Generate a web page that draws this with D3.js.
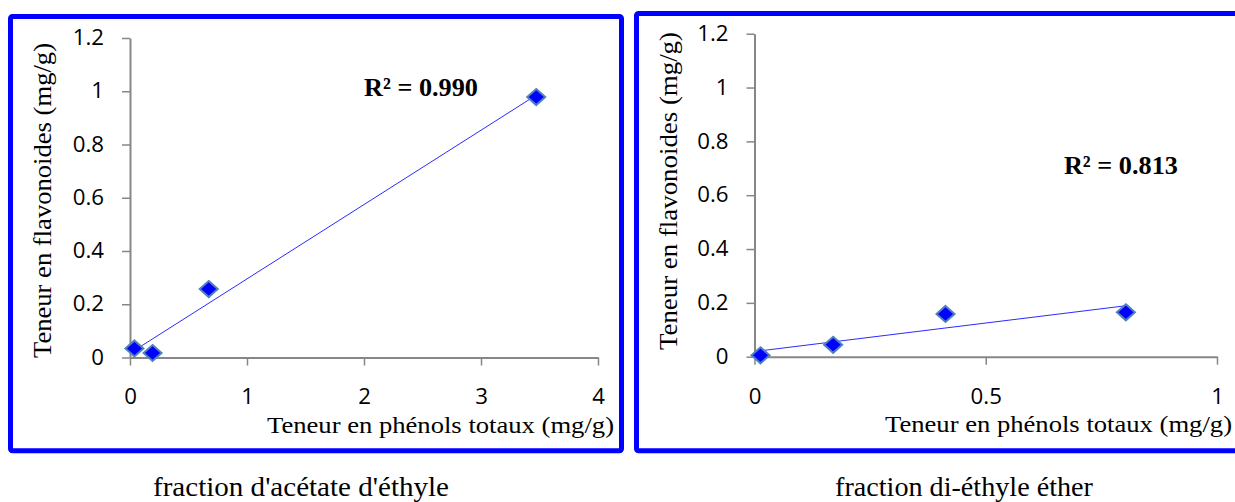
<!DOCTYPE html>
<html>
<head>
<meta charset="utf-8">
<script src="https://cdn.jsdelivr.net/npm/d3@7"></script>
<style>
  html, body { margin: 0; padding: 0; background: #fff; }
  svg { display: block; }
</style>
</head>
<body>
<svg id="chart" width="1235" height="502"></svg>
<script>
// Fraction d'acétate d'éthyle: phenols (x) vs flavonoids (y), mg/g
const acetatePhenols = [0.038, 0.193, 0.673, 3.472];
const acetateFlavo   = [0.034, 0.017, 0.257, 0.978];
const acetateR2 = "0.990";

// Fraction di-éthyle éther
const etherPhenols = [0.013, 0.170, 0.413, 0.803];
const etherFlavo   = [0.005, 0.044, 0.159, 0.165];
const etherR2 = "0.813";

// Axis ticks
const yTickValues = [0, 0.2, 0.4, 0.6, 0.8, 1, 1.2];
const acetateXTicks = [0, 1, 2, 3, 4];
const etherXTicks = [0, 0.5, 1];

const yTitle = "Teneur en flavonoides (mg/g)";
const xTitle = "Teneur en phénols totaux (mg/g)";
const captions = ["fraction d'acétate d'éthyle", "fraction di-éthyle éther"];

const svg = d3.select("#chart");
svg.append("rect").attr("width", 1235).attr("height", 502).attr("fill", "#fff");

const SANS = "'Open Sans', 'Liberation Sans', sans-serif";
const SERIF = "'Liberation Serif', 'DejaVu Serif', serif";
const AXIS_COLOR = "#878787";
const STRETCH = 1.06;

function stretchText(sel, factor) {
  sel.each(function () {
    const w = this.getComputedTextLength();
    d3.select(this).attr("textLength", w * factor).attr("lengthAdjust", "spacingAndGlyphs");
  });
}

function linearFit(xs, ys) {
  const mx = d3.mean(xs), my = d3.mean(ys);
  let sxy = 0, sxx = 0;
  xs.forEach((x, i) => { sxy += (x - mx) * (ys[i] - my); sxx += (x - mx) * (x - mx); });
  const slope = sxy / sxx;
  return { slope, intercept: my - slope * mx };
}

function serifText(parent, size, weight) {
  return parent.append("text")
    .style("font-family", SERIF)
    .style("font-size", size + "px")
    .style("font-weight", weight || "normal")
    .attr("fill", "#000")
    .attr("lengthAdjust", "spacingAndGlyphs");
}

function panel(cfg) {
  const g = svg.append("g");

  // Blue frame around the panel
  g.append("rect")
    .attr("x", cfg.frame[0]).attr("y", cfg.frame[1])
    .attr("width", cfg.frame[2]).attr("height", cfg.frame[3])
    .attr("rx", 2)
    .attr("fill", "none").attr("stroke", "#0000ff").attr("stroke-width", 5);

  const x = d3.scaleLinear().domain(cfg.xDomain).range(cfg.xRange);
  const y = d3.scaleLinear().domain([0, 1.2]).range(cfg.yRange);

  // Y axis
  const ya = g.append("g")
    .attr("transform", `translate(${cfg.xRange[0]},0)`)
    .call(d3.axisLeft(y).tickValues(yTickValues).tickFormat(d3.format("~g"))
      .tickSize(8).tickSizeOuter(0).tickPadding(18));
  // X axis
  const xa = g.append("g")
    .attr("transform", `translate(0,${cfg.yRange[0]})`)
    .call(d3.axisBottom(x).tickValues(cfg.xTicks).tickFormat(d3.format("~g"))
      .tickSize(8).tickSizeOuter(0).tickPadding(24));

  [ya, xa].forEach(a => {
    a.select(".domain").attr("stroke", AXIS_COLOR).attr("stroke-width", 2);
    a.selectAll(".tick line").attr("stroke", AXIS_COLOR).attr("stroke-width", 1.5);
    a.selectAll(".tick text").attr("fill", "#000")
      .style("font-family", SANS).style("font-size", "21px");
    stretchText(a.selectAll(".tick text"), STRETCH);
  });

  // Linear trend line over the data range
  const fit = linearFit(cfg.xs, cfg.ys);
  const x0 = d3.min(cfg.xs), x1 = d3.max(cfg.xs);
  g.append("line")
    .attr("x1", x(x0)).attr("y1", y(fit.intercept + fit.slope * x0))
    .attr("x2", x(x1)).attr("y2", y(fit.intercept + fit.slope * x1))
    .attr("stroke", "#2b2bff").attr("stroke-width", 1);

  // Diamond markers
  const hw = 9, hh = 8;
  g.selectAll("path.pt")
    .data(cfg.xs.map((v, i) => [v, cfg.ys[i]]))
    .join("path")
    .attr("class", "pt")
    .attr("d", d => `M${x(d[0])},${y(d[1]) - hh}L${x(d[0]) + hw},${y(d[1])}L${x(d[0])},${y(d[1]) + hh}L${x(d[0]) - hw},${y(d[1])}Z`)
    .attr("fill", "#0000ff")
    .attr("stroke", "#4f81bd").attr("stroke-width", 2);

  // R² annotation
  serifText(g, 26, "bold")
    .attr("x", x(cfg.r2At[0])).attr("y", y(cfg.r2At[1]))
    .attr("textLength", 114)
    .text(`R² = ${cfg.r2}`);

  // Axis titles
  serifText(g, 24)
    .attr("x", cfg.xTitleEnd).attr("y", cfg.xTitleBase)
    .attr("text-anchor", "end")
    .attr("textLength", 347)
    .text(xTitle);

  serifText(g, 25)
    .attr("transform", `translate(${cfg.yTitleBase},${cfg.yTitleMid}) rotate(-90)`)
    .attr("text-anchor", "middle")
    .attr("textLength", cfg.yTitleLen)
    .text(yTitle);

  // Caption under the panel
  serifText(g, 27)
    .attr("x", cfg.caption[0]).attr("y", 496)
    .attr("textLength", cfg.caption[1])
    .text(cfg.captionText);
}

panel({
  frame: [10.5, 16.5, 611, 434.3],
  xDomain: [0, 4], xRange: [130, 598], yRange: [357.5, 38],
  xTicks: acetateXTicks,
  xs: acetatePhenols, ys: acetateFlavo,
  r2: acetateR2, r2At: [2.0, 0.982],
  xTitleEnd: 614, xTitleBase: 433,
  yTitleBase: 51, yTitleMid: 200.5, yTitleLen: 315,
  caption: [153, 296], captionText: captions[0]
});

panel({
  frame: [636.5, 13.5, 640, 437.3],
  xDomain: [0, 1], xRange: [754.5, 1217], yRange: [356.7, 33.7],
  xTicks: etherXTicks,
  xs: etherPhenols, ys: etherFlavo,
  r2: etherR2, r2At: [0.669, 0.679],
  xTitleEnd: 1232, xTitleBase: 432,
  yTitleBase: 677, yTitleMid: 191, yTitleLen: 318,
  caption: [835, 258], captionText: captions[1]
});
</script>
</body>
</html>
